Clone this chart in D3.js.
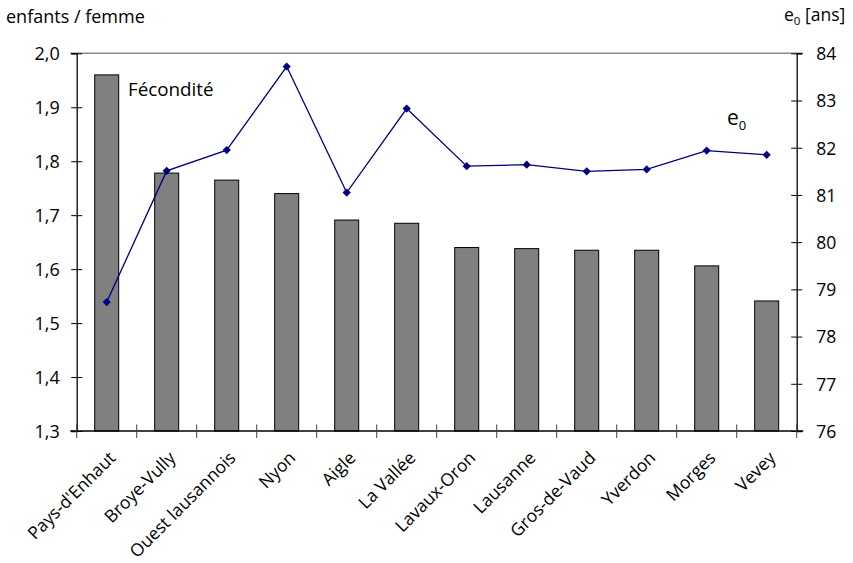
<!DOCTYPE html>
<html>
<head>
<meta charset="utf-8">
<script src="https://cdn.jsdelivr.net/npm/d3@7"></script>
<style>
  html, body { margin: 0; padding: 0; background: #fff; }
  svg text { font-family: "Open Sans", "Noto Sans", sans-serif; fill: #000; }
</style>
</head>
<body>
<svg id="chart" width="853" height="563"></svg>
<script>
// Districts du canton de Vaud
const districts = ["Pays-d'Enhaut", "Broye-Vully", "Ouest lausannois", "Nyon", "Aigle",
  "La Vallée", "Lavaux-Oron", "Lausanne", "Gros-de-Vaud", "Yverdon", "Morges", "Vevey"];
// Indicateur conjoncturel de fécondité (enfants par femme)
const fecondite = [1.96, 1.778, 1.765, 1.74, 1.691, 1.685, 1.640, 1.638, 1.635, 1.635, 1.606, 1.541];
// Espérance de vie à la naissance e0 (ans)
const esperance = [78.73, 81.51, 81.95, 83.72, 81.05, 82.83, 81.61, 81.64, 81.50, 81.54, 81.94, 81.85];
// Graduations des deux axes
const ticksLeft = [1.3, 1.4, 1.5, 1.6, 1.7, 1.8, 1.9, 2.0];
const ticksRight = [76, 77, 78, 79, 80, 81, 82, 83, 84];

const svg = d3.select("#chart");
const plot = { left: 76.7, right: 796.7, top: 53.3, bottom: 431 };

const x = d3.scaleBand().domain(districts)
  .range([plot.left, plot.right]).paddingInner(0.6).paddingOuter(0.3);
const yL = d3.scaleLinear().domain([1.3, 2.0]).range([plot.bottom, plot.top]);
const yR = d3.scaleLinear().domain([76, 84]).range([plot.bottom, plot.top]);

const comma = d3.formatLocale({ decimal: ",", thousands: "'", grouping: [3], currency: ["", " CHF"] });
const fmt1 = comma.format(".1f");

// Ligne supérieure du cadre
svg.append("line")
  .attr("x1", plot.left - 6.5).attr("x2", plot.right + 6.5)
  .attr("y1", yL(2.0)).attr("y2", yL(2.0))
  .attr("stroke", "#8c8c8c").attr("stroke-width", 1.6);

// Barres de fécondité
svg.append("g").selectAll("rect")
  .data(districts)
  .join("rect")
  .attr("x", (d) => x(d))
  .attr("y", (d, i) => yL(fecondite[i]))
  .attr("width", x.bandwidth())
  .attr("height", (d, i) => yL(1.3) - yL(fecondite[i]))
  .attr("fill", "#808080")
  .attr("stroke", "#000")
  .attr("stroke-width", 1);

// Axe gauche
const axL = svg.append("g")
  .attr("transform", `translate(${plot.left},0)`)
  .call(d3.axisLeft(yL).tickValues(ticksLeft).tickFormat(fmt1).tickSizeOuter(0).tickSize(5.5));
axL.select(".domain").attr("stroke", "#000").attr("stroke-width", 1.3);
axL.selectAll(".tick line").attr("x1", 5.5).attr("x2", -5.5).attr("stroke", "#000").attr("stroke-width", 1);
axL.selectAll(".tick text")
  .attr("x", -17).attr("dy", "0.36em")
  .style("font-size", "18px").style("font-family", "'Open Sans', sans-serif").attr("fill", "#000");

// Axe droit
const axR = svg.append("g")
  .attr("transform", `translate(${plot.right},0)`)
  .call(d3.axisRight(yR).tickValues(ticksRight).tickFormat(d3.format("d")).tickSizeOuter(0).tickSize(5.5));
axR.select(".domain").attr("stroke", "#000").attr("stroke-width", 1.3);
axR.selectAll(".tick line").attr("x1", -5.5).attr("x2", 5.5).attr("stroke", "#000").attr("stroke-width", 1);
axR.selectAll(".tick text")
  .attr("x", 19.5).attr("dy", "0.36em")
  .style("font-size", "17.5px").style("font-family", "'Open Sans', sans-serif").attr("fill", "#000");

// Axe des catégories
const xAxis = svg.append("g");
xAxis.append("line")
  .attr("x1", plot.left - 6.5).attr("x2", plot.right + 6.5)
  .attr("y1", plot.bottom).attr("y2", plot.bottom)
  .attr("stroke", "#000").attr("stroke-width", 1.3);
const bounds = d3.range(districts.length + 1).map((i) => x.range()[0] + i * x.step());
xAxis.selectAll("line.sep")
  .data(bounds)
  .join("line")
  .attr("class", "sep")
  .attr("x1", (d) => d).attr("x2", (d) => d)
  .attr("y1", plot.bottom - 6.5).attr("y2", plot.bottom + 7)
  .attr("stroke", "#444").attr("stroke-width", 1);
xAxis.selectAll("text")
  .data(districts)
  .join("text")
  .attr("text-anchor", "end")
  .attr("transform", (d) => `translate(${x(d) + x.bandwidth() / 2 + 10},${plot.bottom + 28}) rotate(-45)`)
  .style("font-size", "17.5px")
  .text((d) => d);

// Courbe de l'espérance de vie
const line = d3.line()
  .x((d, i) => x(districts[i]) + x.bandwidth() / 2)
  .y((d) => yR(d));
svg.append("path")
  .datum(esperance)
  .attr("d", line)
  .attr("fill", "none")
  .attr("stroke", "#000080")
  .attr("stroke-width", 1.3);
svg.append("g").selectAll("path")
  .data(esperance)
  .join("path")
  .attr("d", d3.symbol(d3.symbolSquare, 34))
  .attr("transform", (d, i) => `translate(${x(districts[i]) + x.bandwidth() / 2},${yR(d)}) rotate(45)`)
  .attr("fill", "#000080");

// Titres des axes
svg.append("text")
  .attr("x", 6).attr("y", 23)
  .style("font-size", "18px")
  .text("enfants / femme");

const tR = svg.append("text")
  .attr("x", 784).attr("y", 21)
  .style("font-size", "17.5px");
tR.append("tspan").text("e");
tR.append("tspan").attr("dy", 4).style("font-size", "11.5px").text("0");
tR.append("tspan").attr("dy", -4).text(" [ans]");

// Étiquettes des séries
svg.append("text")
  .attr("x", 128).attr("y", 96)
  .style("font-size", "18.8px")
  .text("Fécondité");

const tE = svg.append("text")
  .attr("x", 727).attr("y", 125)
  .style("font-size", "21px");
tE.append("tspan").text("e");
tE.append("tspan").attr("dy", 5).style("font-size", "13px").text("0");
</script>
</body>
</html>
